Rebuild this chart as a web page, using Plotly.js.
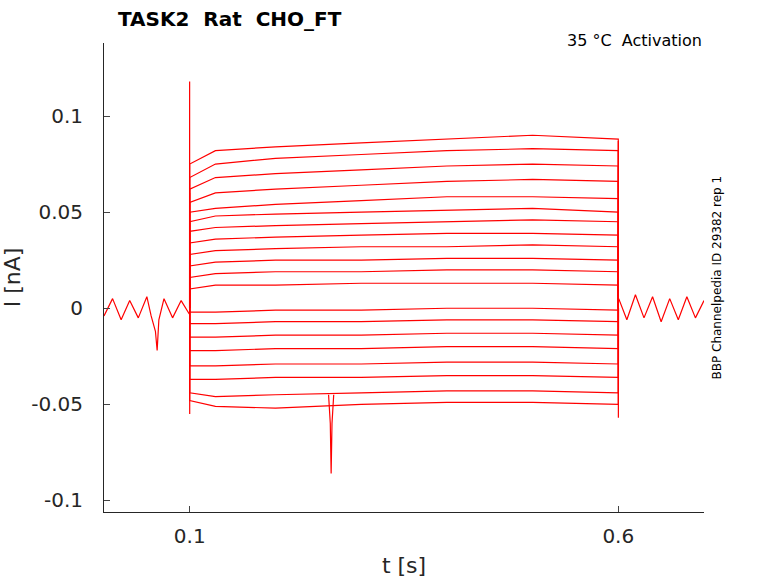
<!DOCTYPE html>
<html>
<head>
<script src="https://cdn.plot.ly/plotly-3.0.1.min.js"></script>
<style>body{margin:0;background:#fff}</style>
</head>
<body>
<div id="chart" style="width:778px;height:583px"></div>
<script>
// sweep time points (s)
var sweepT = [0.1, 0.13, 0.2, 0.3, 0.4, 0.5, 0.6];
// steady levels of each sweep (nA), estimated at the time points above
var sweepLevels = [
  [0.075, 0.082, 0.084, 0.086, 0.088, 0.090, 0.088],
  [0.068, 0.075, 0.078, 0.080, 0.082, 0.083, 0.082],
  [0.062, 0.068, 0.070, 0.072, 0.074, 0.075, 0.074],
  [0.055, 0.060, 0.062, 0.064, 0.066, 0.067, 0.066],
  [0.050, 0.052, 0.054, 0.056, 0.058, 0.058, 0.057],
  [0.045, 0.048, 0.049, 0.050, 0.051, 0.052, 0.050],
  [0.040, 0.042, 0.043, 0.044, 0.045, 0.046, 0.045],
  [0.034, 0.036, 0.037, 0.038, 0.039, 0.039, 0.038],
  [0.028, 0.030, 0.031, 0.032, 0.032, 0.033, 0.032],
  [0.022, 0.024, 0.025, 0.025, 0.026, 0.026, 0.025],
  [0.016, 0.018, 0.019, 0.019, 0.020, 0.020, 0.019],
  [0.010, 0.012, 0.012, 0.013, 0.013, 0.013, 0.012],
  [-0.002, -0.002, -0.001, -0.001, 0.000, 0.000, -0.001],
  [-0.008, -0.008, -0.007, -0.007, -0.006, -0.006, -0.007],
  [-0.015, -0.015, -0.014, -0.014, -0.013, -0.013, -0.014],
  [-0.022, -0.022, -0.021, -0.021, -0.020, -0.020, -0.021],
  [-0.030, -0.030, -0.029, -0.029, -0.028, -0.028, -0.029],
  [-0.037, -0.037, -0.036, -0.036, -0.035, -0.035, -0.036],
  [-0.044, -0.046, -0.045, -0.044, -0.043, -0.043, -0.044],
  [-0.048, -0.051, -0.052, -0.050, -0.049, -0.049, -0.050]
];
// baseline noise (hand estimated) before and after the step
var preT = [0, 0.01, 0.02, 0.03, 0.04, 0.05, 0.055, 0.06, 0.062, 0.064, 0.07, 0.08, 0.09, 0.0995];
var preI = [-0.004, 0.005, -0.006, 0.004, -0.005, 0.006, -0.004, -0.012, -0.022, -0.006, 0.005, -0.005, 0.004, -0.003];
var postT = [0.6005, 0.61, 0.62, 0.63, 0.64, 0.65, 0.66, 0.67, 0.68, 0.69, 0.7];
var postI = [0.005, -0.006, 0.007, -0.005, 0.006, -0.007, 0.005, -0.006, 0.006, -0.005, 0.004];
// transients
var onT = [0.0998, 0.0999, 0.1, 0.1001];
var onI = [0, 0.118, -0.055, 0.06];
var offT = [0.5999, 0.6, 0.6001, 0.6003];
var offI = [0.06, 0.087, -0.057, 0];
var dipT = [0.262, 0.264, 0.265, 0.266, 0.268];
var dipI = [-0.045, -0.06, -0.086, -0.06, -0.045];

var red = '#ff0000';
var data = [];
function tr(x, y) { data.push({x: x, y: y, type: 'scatter', mode: 'lines', line: {color: red, width: 1.2}, hoverinfo: 'none'}); }
sweepLevels.forEach(function (lv) { tr([0.0999].concat(sweepT, [0.6001]), [0].concat(lv, [0])); });
tr(preT, preI);
tr(postT, postI);
tr(onT, onI);
tr(offT, offI);
tr(dipT, dipI);

var layout = {
  width: 778, height: 583,
  margin: {l: 104, r: 74, t: 43, b: 71},
  paper_bgcolor: '#fff', plot_bgcolor: '#fff',
  showlegend: false,
  font: {family: 'DejaVu Sans', color: '#262626'},
  xaxis: {range: [0, 0.7], tickvals: [0.1, 0.6], ticktext: ['0.1', '0.6'], ticks: 'inside', ticklen: 6,
    ticklabelstandoff: 6,
    showline: true, linecolor: '#262626', zeroline: false, showgrid: false, tickfont: {size: 20},
    title: {text: 't [s]', font: {size: 22}, standoff: 10}},
  yaxis: {range: [-0.106, 0.138], tickvals: [-0.1, -0.05, 0, 0.05, 0.1], ticktext: ['-0.1', '-0.05', '0', '0.05', '0.1'],
    ticks: 'inside', ticklen: 6, ticklabelstandoff: 16, showline: true, linecolor: '#262626', zeroline: false, showgrid: false,
    tickfont: {size: 20}, title: {text: 'I [nA]', font: {size: 22}, standoff: 6}},
  annotations: [
    {text: '<b>TASK2  Rat  CHO_FT</b>', xref: 'paper', yref: 'paper', x: 0.02, y: 1.0, yshift: 24, xanchor: 'left', yanchor: 'middle', showarrow: false, font: {size: 20, color: '#000'}},
    {text: '35 °C  Activation', xref: 'paper', yref: 'paper', x: 1, y: 1, yshift: 3, xanchor: 'right', yanchor: 'middle', showarrow: false, font: {size: 16, color: '#000'}},
    {text: 'BBP Channelpedia ID 29382 rep 1', xref: 'paper', yref: 'paper', x: 1, xshift: 12, y: 0.5, textangle: -90, xanchor: 'center', yanchor: 'middle', showarrow: false, font: {size: 12, color: '#000'}}
  ]
};
Plotly.newPlot('chart', data, layout, {displayModeBar: false, staticPlot: true});
</script>
</body>
</html>
